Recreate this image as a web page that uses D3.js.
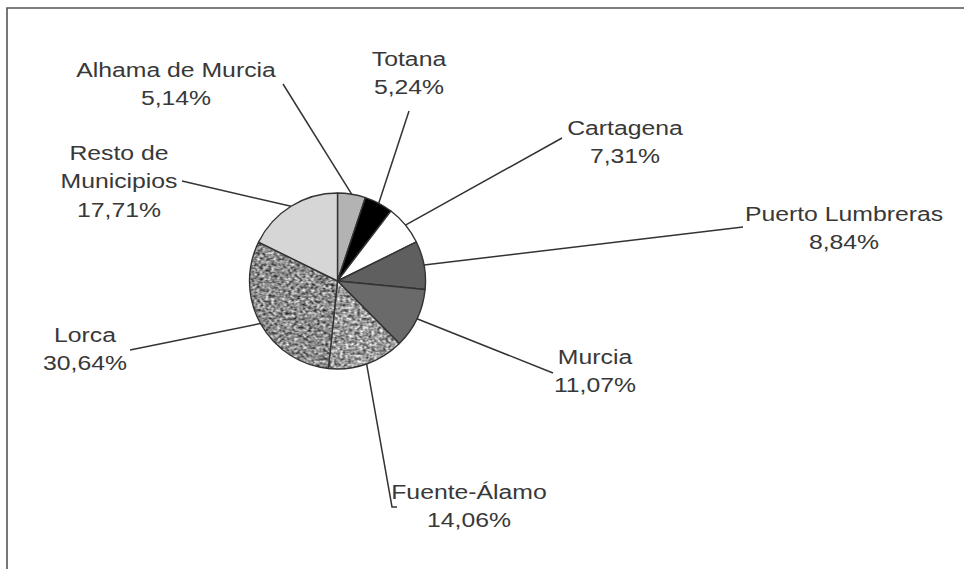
<!DOCTYPE html>
<html>
<head>
<meta charset="utf-8">
<script src="https://cdn.jsdelivr.net/npm/d3@7"></script>
<style>
  body { margin: 0; background: #fff; }
  svg { display: block; }
  text { font-family: "Liberation Sans", Arial, sans-serif; font-size: 21px; fill: #383838; }
</style>
</head>
<body>
<svg width="964" height="569"></svg>
<script>
// data, clockwise from 12 o'clock
var municipios = [ "Alhama de Murcia", "Totana", "Cartagena", "Puerto Lumbreras", "Murcia", "Fuente-Álamo", "Lorca", "Resto de Municipios" ];
var porcentaje = [ 5.14, 5.24, 7.31, 8.84, 11.07, 14.06, 30.64, 17.71 ];
var etiquetas = [
  [ "Alhama de Murcia", "5,14%" ],
  [ "Totana", "5,24%" ],
  [ "Cartagena", "7,31%" ],
  [ "Puerto Lumbreras", "8,84%" ],
  [ "Murcia", "11,07%" ],
  [ "Fuente-Álamo", "14,06%" ],
  [ "Lorca", "30,64%" ],
  [ "Resto de", "Municipios", "17,71%" ]
];

// label layout: text centre / first baseline, and where the leader line ends
var labelPos = [
  { x: 176, y: 77,  end: [[283, 84]] },
  { x: 409, y: 66,  end: [[409, 111]] },
  { x: 625, y: 135, end: [[562, 138]] },
  { x: 844, y: 221, end: [[743, 227]] },
  { x: 595, y: 364, end: [[553, 373]] },
  { x: 469, y: 499, end: [[392, 507], [397, 507]] },
  { x: 85,  y: 342, end: [[130, 350]] },
  { x: 119, y: 160, end: [[182, 181]] }
];

var fills = [ "#b3b3b3", "#000", "#fff", "#5f5f5f", "#6a6a6a", "url(#speckA)", "url(#speckB)", "#d6d6d6" ];

var cx = 337.5, cy = 281, radius = 88;

var svg = d3.select('svg');

// speckled textures
var defs = svg.append('defs');
function speckle(id, offset, seed) {
  defs.append('filter')
    .attr('id', 'noise' + id)
    .attr('color-interpolation-filters', 'sRGB')
    .attr('x', 0).attr('y', 0).attr('width', 1).attr('height', 1)
    .call(f => {
      f.append('feTurbulence')
        .attr('type', 'fractalNoise')
        .attr('baseFrequency', 0.35)
        .attr('numOctaves', 2)
        .attr('seed', seed);
      f.append('feColorMatrix')
        .attr('type', 'matrix')
        .attr('values', `1.35 0 0 0 ${offset}  1.35 0 0 0 ${offset}  1.35 0 0 0 ${offset}  0 0 0 0 1`);
    });
  defs.append('pattern')
    .attr('id', 'speck' + id)
    .attr('patternUnits', 'userSpaceOnUse')
    .attr('width', 200).attr('height', 200)
    .append('rect')
    .attr('width', 200).attr('height', 200)
    .attr('filter', `url(#noise${id})`);
}
speckle('A', -0.07, 3);
speckle('B', -0.13, 7);

// frame (top and left edges only)
svg.append('path')
  .attr('d', 'M7,569 V8 H964')
  .attr('fill', 'none')
  .attr('stroke', '#555')
  .attr('stroke-width', 1.6);

var pie = d3.pie().sort(null).value(d => d);
var arcs = pie(porcentaje);

var arc = d3.arc().innerRadius(0).outerRadius(radius);
var edge = d3.arc().innerRadius(radius).outerRadius(radius);

var g = svg.append('g')
  .attr('transform', `translate(${cx}, ${cy})`);

g.selectAll('path.slice')
  .data(arcs)
  .enter()
  .append('path')
  .attr('class', 'slice')
  .attr('d', arc)
  .attr('fill', (d, i) => fills[i])
  .attr('stroke', '#333')
  .attr('stroke-width', 1.4)
  .attr('stroke-linejoin', 'round');

// leader lines
svg.selectAll('polyline')
  .data(arcs)
  .enter()
  .append('polyline')
  .attr('points', (d, i) => {
    var c = edge.centroid(d);
    var pts = [[cx + c[0], cy + c[1]]].concat(labelPos[i].end);
    return pts.map(p => p.join(',')).join(' ');
  })
  .attr('fill', 'none')
  .attr('stroke', '#333')
  .attr('stroke-width', 1.5);

// labels
var lab = svg.selectAll('g.label')
  .data(etiquetas)
  .enter()
  .append('g')
  .attr('class', 'label')
  .attr('transform', (d, i) => `translate(${labelPos[i].x}, ${labelPos[i].y}) scale(1.18, 1)`);

lab.selectAll('text')
  .data(d => d)
  .enter()
  .append('text')
  .attr('text-anchor', 'middle')
  .attr('y', (d, j) => j * 28.5)
  .text(d => d);
</script>
</body>
</html>
